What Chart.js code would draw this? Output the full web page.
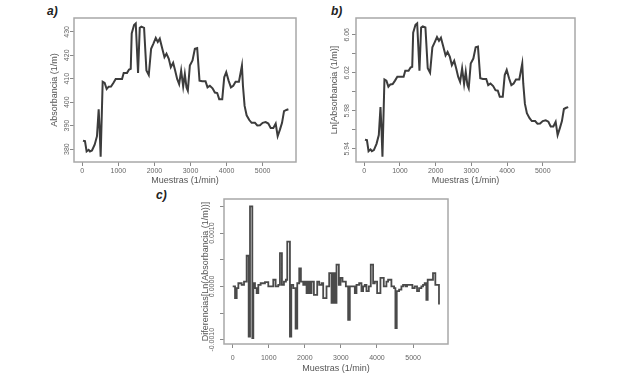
<!DOCTYPE html>
<html>
<head>
<meta charset="utf-8">
<script src="https://cdn.jsdelivr.net/npm/chart.js@4.4.1/dist/chart.umd.min.js"></script>
<style>
  body { margin:0; background:#fff; width:626px; height:374px; position:relative; overflow:hidden; font-family:"Liberation Sans", Arial, sans-serif; }
  canvas { position:absolute; }
  .tag { position:absolute; font-weight:bold; font-style:italic; font-size:12px; color:#222; }
</style>
</head>
<body>
<div class="tag" style="left:47px;top:4px">a)</div>
<div class="tag" style="left:331px;top:4px">b)</div>
<div class="tag" style="left:156px;top:188px">c)</div>
<canvas id="chartA" width="280" height="190" style="left:30px;top:0px"></canvas>
<canvas id="chartB" width="280" height="190" style="left:310px;top:0px"></canvas>
<canvas id="chartC" width="290" height="189" style="left:170px;top:185px"></canvas>
<script>
// muestras (1/min) for panels a and b
const muestras = [19,74,120,176,213,269,343,407,454,481,
  509,565,620,676,731,796,861,926,1037,1102,
  1148,1241,1296,1343,1370,1435,1482,1546,1593,1639,
  1713,1778,1843,1908,1972,2037,2093,2148,2213,2278,
  2334,2398,2454,2519,2574,2630,2685,2741,2797,2843,
  2889,2926,2982,3056,3121,3185,3250,3324,3417,3472,
  3537,3611,3676,3741,3796,3880,3935,3991,4056,4121,
  4185,4250,4343,4426,4454,4500,4556,4630,4695,4787,
  4852,4926,5000,5084,5158,5223,5297,5362,5417,5482,
  5538,5593,5658,5714];

const absorbancia = [383.6,383.4,379.0,379.7,379.0,379.4,381.9,385.5,397.0,388.3,
  376.8,408.7,408.2,405.6,406.6,406.7,408.2,409.9,409.9,409.9,
  412.5,412.5,413.9,414.2,429.3,432.9,433.6,412.5,431.7,432.2,
  431.7,413.5,411.6,422.8,425.0,427.4,425.7,427.1,423.1,419.2,
  420.7,418.5,414.9,416.8,413.5,409.9,407.7,413.5,406.7,412.0,
  406.3,404.9,415.6,417.8,422.8,423.1,409.2,408.9,408.9,406.3,
  407.0,405.9,404.1,403.9,401.3,401.3,410.6,412.8,409.2,406.3,
  407.0,408.7,408.7,415.6,407.0,398.4,394.4,392.4,391.2,391.2,
  390.1,390.2,391.2,391.5,390.9,389.0,389.0,390.9,385.5,388.4,
  391.2,396.2,396.7,397.0];

const lnAbsorbancia = [5.9496,5.9491,5.9375,5.9394,5.9375,5.9386,5.9452,5.9545,5.9839,5.9618,
  5.9317,6.0130,6.0118,6.0054,6.0078,6.0081,6.0118,6.0159,6.0159,6.0159,
  6.0222,6.0222,6.0256,6.0264,6.0622,6.0705,6.0721,6.0222,6.0677,6.0689,
  6.0677,6.0247,6.0201,6.0469,6.0521,6.0577,6.0537,6.0570,6.0476,6.0383,
  6.0419,6.0367,6.0280,6.0326,6.0247,6.0159,6.0105,6.0247,6.0081,6.0210,
  6.0071,6.0036,6.0297,6.0350,6.0469,6.0476,6.0142,6.0135,6.0135,6.0071,
  6.0088,6.0061,6.0017,6.0012,5.9947,5.9947,6.0176,6.0230,6.0142,6.0071,
  6.0088,6.0130,6.0130,6.0297,6.0088,5.9875,5.9774,5.9723,5.9692,5.9692,
  5.9664,5.9667,5.9692,5.9700,5.9685,5.9636,5.9636,5.9685,5.9545,5.9620,
  5.9692,5.9819,5.9832,5.9839];

// panel c: step plot of the differences
const muestrasC = [0,65,111,157,249,314,387,443,480,544,
  572,618,664,710,775,895,987,1125,1190,1264,
  1310,1365,1421,1476,1513,1587,1624,1679,1744,1790,
  1845,1891,1956,2002,2048,2094,2140,2186,2251,2343,
  2398,2463,2509,2601,2675,2740,2786,2832,2878,2943,
  2989,3044,3137,3201,3247,3386,3432,3506,3570,3616,
  3662,3708,3773,3828,3893,3939,4004,4096,4188,4262,
  4308,4400,4474,4511,4548,4613,4677,4723,4788,4834,
  4982,5046,5111,5166,5231,5277,5323,5369,5406,5553,
  5618,5719];

const diferencias = [0,-0.00022,-0.00003,0.00006,0.00003,0.00009,0.000575,-0.00094,0.0015,-0.00097,
  0.00006,-0.00003,-0.000125,0.00003,0.00006,0.00008,0,0.000125,0,0.00003,
  0.000625,0.00003,0.00009,0.000125,0.00084,-0.00094,0.00003,-0.00003,-0.00079,0.00006,
  0.00034,0.00009,0.00003,0.00009,-0.000125,0.00009,-0.000125,0.00009,-0.00016,0.00009,
  0.00003,0.00006,-0.00022,0,0.00025,-0.00031,0.00025,-0.00031,0.00041,0.00003,
  0.00016,0.00009,0,-0.000625,0,-0.000125,0.00003,0.00006,-0.00009,0,
  0.00003,-0.00009,0,0.00041,0.00006,0.00009,-0.000125,0.00016,0,0.00009,
  0.000125,0,-0.00003,-0.00078,-0.00009,-0.00006,0,0.00003,0,0.00003,
  -0.00003,0,-0.00009,-0.00003,0,0.00003,0.00006,-0.00025,0.000125,0.00025,
  0.00003,-0.00034];

// ticks
const ticksX = [0,1000,2000,3000,4000,5000];
const labelsX = ['0','1000','2000','3000','4000','5000'];
const ticksA = [380,390,400,410,420,430];
const labelsA = ['380','390','400','410','420','430'];
const ticksB = [5.94,5.96,5.98,6.00,6.02,6.04,6.06];
const labelsB = ['5.94','','5.98','','6.02','','6.06'];
const ticksC = [-0.0010,-0.0005,0,0.0005,0.0010,0.0015];
const labelsC = ['-0.0010','','0.0000','','0.0010',''];

const boxPlugin = {
    id: 'box',
    afterDraw(chart) {
        const a = chart.chartArea;
        const ctx = chart.ctx;
        ctx.save();
        ctx.strokeStyle = '#a8a8a8';
        ctx.lineWidth = 1.5;
        ctx.strokeRect(a.left, a.top, a.right - a.left, a.bottom - a.top);
        ctx.restore();
    }
};

function makePanel(id, xs, ys, cfg) {
    const points = xs.map((x, i) => ({x: x, y: ys[i]}));
    return new Chart(document.getElementById(id), {
        type: 'line',
        data: {
            datasets: [{
                data: points,
                borderColor: cfg.lineColor,
                borderWidth: cfg.lineWidth,
                stepped: cfg.stepped || false,
                pointRadius: 0,
                tension: 0,
                fill: false
            }]
        },
        options: {
            responsive: false,
            animation: false,
            devicePixelRatio: 1,
            layout: { padding: cfg.padding },
            plugins: { legend: { display: false }, tooltip: { enabled: false } },
            scales: {
                x: {
                    type: 'linear',
                    min: cfg.xMin, max: cfg.xMax,
                    afterBuildTicks: s => { s.ticks = ticksX.map(v => ({value: v})); },
                    afterFit: s => { s.height = cfg.xHeight; },
                    grid: { drawOnChartArea: false, drawTicks: true, tickLength: 4, color: '#888', lineWidth: 1 },
                    border: { display: false },
                    ticks: { autoSkip: false, maxRotation: 0, font: { size: 7 }, color: '#666', padding: cfg.xTickPad,
                             callback: (v, i) => labelsX[i] },
                    title: { display: true, text: 'Muestras (1/min)', font: { size: 9 }, color: '#555',
                             padding: { top: 0, bottom: cfg.xTitlePad } }
                },
                y: {
                    type: 'linear',
                    min: cfg.yMin, max: cfg.yMax,
                    afterBuildTicks: s => { s.ticks = cfg.yTicks.map(v => ({value: v})); },
                    afterFit: s => { s.width = cfg.yWidth; },
                    grid: { drawOnChartArea: false, drawTicks: true, tickLength: 4, color: '#888', lineWidth: 1 },
                    border: { display: false },
                    ticks: { autoSkip: false, minRotation: 90, maxRotation: 90, crossAlign: 'center',
                             font: { size: 7 }, color: '#666', padding: cfg.yTickPad,
                             callback: (v, i) => cfg.yLabels[i] },
                    title: { display: true, text: cfg.yTitle, font: { size: 9 }, color: '#555',
                             padding: { top: cfg.yTitlePad, bottom: 0 } }
                }
            }
        },
        plugins: [boxPlugin]
    });
}

makePanel('chartA', muestras, absorbancia, {
    padding: { left: 15, right: 14, top: 18, bottom: 0 },
    xMin: -230, xMax: 5925, yMin: 374.5, yMax: 435.9,
    xHeight: 28, yWidth: 29, xTickPad: 1, xTitlePad: 4, yTickPad: -3, yTitlePad: 4,
    yTicks: ticksA, yLabels: labelsA, yTitle: 'Absorbancia (1/m)', lineWidth: 2, lineColor: '#3c3c3c'
});

makePanel('chartB', muestras, lnAbsorbancia, {
    padding: { left: 15, right: 15, top: 18, bottom: 0 },
    xMin: -232, xMax: 5904, yMin: 5.9261, yMax: 6.0777,
    xHeight: 28, yWidth: 31, xTickPad: 1, xTitlePad: 4, yTickPad: -2, yTitlePad: 4,
    yTicks: ticksB, yLabels: labelsB, yTitle: 'Ln[Absorbancia (1/m)]', lineWidth: 2, lineColor: '#3c3c3c'
});

makePanel('chartC', muestrasC, diferencias, {
    padding: { left: 28, right: 12, top: 14, bottom: 0 },
    xMin: -241, xMax: 5969, yMin: -0.00108, yMax: 0.00164,
    xHeight: 30, yWidth: 26, xTickPad: 6, xTitlePad: 0, yTickPad: -4, yTitlePad: 2,
    yTicks: ticksC, yLabels: labelsC, yTitle: 'Diferencias[Ln(Absorbancia (1/m))]',
    lineWidth: 1.8, lineColor: '#4a4a4a', stepped: true
});
</script>
</body>
</html>
